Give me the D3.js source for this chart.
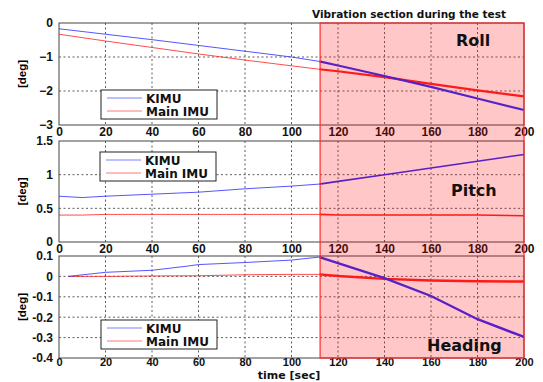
<!DOCTYPE html>
<html><head><meta charset="utf-8">
<script src="https://cdn.jsdelivr.net/npm/d3@7"></script>
<style>body{margin:0;background:#fff}svg{display:block}</style>
</head><body>
<svg id="c" width="543" height="382"></svg>
<script>
// ---- data ----
const xTicks = [0,20,40,60,80,100,120,140,160,180,200];
const vibStart = 112.3, vibEnd = 200;

const rollT      = [0,20,40,60,80,100,112,120,140,160,180,200];
const rollKIMU   = [-0.17,-0.33,-0.49,-0.66,-0.83,-1.0,-1.13,-1.25,-1.56,-1.88,-2.22,-2.56];
const rollMain   = [-0.33,-0.53,-0.72,-0.91,-1.09,-1.26,-1.36,-1.42,-1.59,-1.79,-1.98,-2.16];
const rollTicks  = [0,-1,-2,-3];

const pitchT     = [0,10,20,40,60,80,100,112,120,140,160,180,200];
const pitchKIMU  = [0.68,0.66,0.68,0.71,0.74,0.79,0.83,0.86,0.90,1.0,1.1,1.2,1.3];
const pitchMain  = [0.40,0.40,0.41,0.41,0.41,0.41,0.41,0.41,0.40,0.40,0.40,0.40,0.39];
const pitchTicks = [0,0.5,1,1.5];

const headT      = [4,20,40,55,60,80,100,112,120,140,160,180,200];
const headKIMU   = [0.0,0.02,0.03,0.05,0.058,0.068,0.08,0.095,0.065,-0.008,-0.096,-0.21,-0.297];
const headMain   = [0.0,0.0,0.002,0.003,0.003,0.008,0.01,0.01,0.002,-0.012,-0.02,-0.024,-0.025];
const headTicks  = [0.1,0,-0.1,-0.2,-0.3,-0.4];

const seriesNames = ["KIMU","Main IMU"];

// ---- layout ----
const svg = d3.select("#c");
const X0 = 59, X1 = 524;
const x = d3.scaleLinear().domain([0,200]).range([X0,X1]);

const panels = [
  {t:rollT, a:rollKIMU, b:rollMain, ticks:rollTicks, dom:[-3,0], top:23, bot:125, label:"Roll", lx:456, ly:46, leg:[101,90], fmt:d3.format("d"), wb:2.2, wr:2.2, xf:12, xp:2},
  {t:pitchT, a:pitchKIMU, b:pitchMain, ticks:pitchTicks, dom:[0,1.5], top:141, bot:242, label:"Pitch", lx:451, ly:196, leg:[100,152], fmt:d=>String(d), wb:1.6, wr:1.6, xf:12, xp:2},
  {t:headT, a:headKIMU, b:headMain, ticks:headTicks, dom:[-0.4,0.1], top:256, bot:358, label:"Heading", lx:427, ly:351, leg:[101,320], fmt:d=>String(d), wb:2.4, wr:2.4, xf:11, xp:0}
];

const blue = "#2a2aff", red = "#ff2020";
const font = "'DejaVu Sans', sans-serif";
const afont = "'Liberation Sans', Arial, sans-serif";

panels.forEach(p => {
  const y = d3.scaleLinear().domain(p.dom).range([p.bot,p.top]);
  const g = svg.append("g");
  // grid
  g.selectAll(".gx").data(xTicks.slice(1,-1)).join("line")
    .attr("x1",d=>x(d)).attr("x2",d=>x(d)).attr("y1",p.top).attr("y2",p.bot)
    .attr("stroke","#333").attr("stroke-dasharray","2,2.5").attr("stroke-width",0.8);
  g.selectAll(".gy").data(p.ticks.filter(d=>d!==p.dom[0]&&d!==p.dom[1])).join("line")
    .attr("y1",d=>y(d)).attr("y2",d=>y(d)).attr("x1",X0).attr("x2",X1)
    .attr("stroke","#333").attr("stroke-dasharray","2,2.5").attr("stroke-width",0.8);
  // frame
  g.append("rect").attr("x",X0).attr("y",p.top).attr("width",X1-X0).attr("height",p.bot-p.top)
    .attr("fill","none").attr("stroke","#444").attr("stroke-width",1);
  // axes
  const ax = d3.axisBottom(x).tickValues(xTicks).tickSize(0).tickPadding(p.xp).tickFormat(d3.format("d"));
  const axg = g.append("g").attr("transform",`translate(0,${p.bot})`).call(ax);
  const ay = d3.axisLeft(y).tickValues(p.ticks).tickSize(0).tickPadding(6).tickFormat(p.fmt);
  const ayg = g.append("g").attr("transform",`translate(${X0},0)`).call(ay);
  [axg,ayg].forEach(a=>{a.select(".domain").remove();
    a.selectAll("text").attr("font-family",afont).attr("font-weight","bold").attr("font-size",12).attr("fill","#111");});
  axg.selectAll("text").attr("font-size",p.xf);
  // lines
  const pts = (arr)=>p.t.map((t,i)=>[t,arr[i]]);
  const line = d3.line().x(d=>x(d[0])).y(d=>y(d[1]));
  [[p.b,red,p.wr],[p.a,blue,p.wb]].forEach(([arr,col,w])=>{
    const all = pts(arr);
    const pre = all.filter(d=>d[0]<=112);
    const post = all.filter(d=>d[0]>=112);
    g.append("path").attr("d",line(pre)).attr("fill","none").attr("stroke",col).attr("stroke-width",1).attr("stroke-opacity",0.8);
    g.append("path").attr("d",line(post)).attr("fill","none").attr("stroke",col).attr("stroke-width",w);
  });
  // y label
  g.append("text").attr("transform",`translate(26,${(p.top+p.bot)/2}) rotate(-90)`)
    .attr("text-anchor","middle").attr("font-family",afont)
    .attr("font-weight","bold").attr("font-size",11.5).text("[deg]");
  // legend
  const [lx,ly] = p.leg;
  const lg = g.append("g").attr("transform",`translate(${lx},${ly})`);
  lg.append("rect").attr("width",116).attr("height",29).attr("fill","#fff").attr("stroke","#222").attr("stroke-width",1);
  [[blue,seriesNames[0],8],[red,seriesNames[1],21]].forEach(([c,n,yy])=>{
    lg.append("line").attr("x1",6).attr("x2",41).attr("y1",yy).attr("y2",yy).attr("stroke",c).attr("stroke-opacity",0.6);
    lg.append("text").attr("x",45).attr("y",yy+4.5).attr("font-family",font).attr("font-weight","bold").attr("font-size",12).attr("fill","#111").text(n);
  });
});

// vibration section overlay
svg.append("rect").attr("x",x(vibStart)).attr("y",panels[0].top)
  .attr("width",x(vibEnd)-x(vibStart)).attr("height",panels[2].bot-panels[0].top)
  .attr("fill","#ff0000").attr("fill-opacity",0.22)
  .attr("stroke","#ff2a2a").attr("stroke-width",1.2);

// panel labels
panels.forEach(p=>{
  svg.append("text").attr("x",p.lx).attr("y",p.ly).attr("font-family",font).attr("font-weight","bold")
    .attr("font-size",16).attr("fill","#111").text(p.label);
});
svg.append("text").attr("x",409).attr("y",18).attr("text-anchor","middle").attr("font-family",font)
  .attr("font-weight","bold").attr("font-size",10.5).attr("fill","#111").text("Vibration section during the test");
svg.append("text").attr("x",289).attr("y",379).attr("text-anchor","middle").attr("font-family",font)
  .attr("font-weight","bold").attr("font-size",11).attr("fill","#111").text("time [sec]");
</script>
</body></html>
